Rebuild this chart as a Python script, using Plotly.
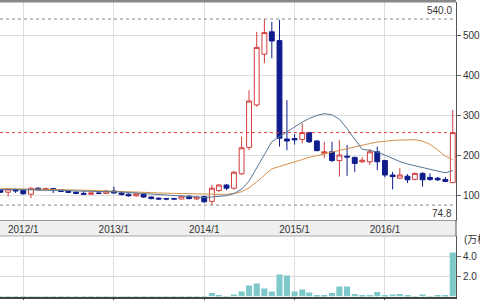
import plotly.graph_objects as go

months = ["2011-10-01","2011-11-01","2011-12-01",
          "2012-01-01","2012-02-01","2012-03-01","2012-04-01","2012-05-01","2012-06-01",
          "2012-07-01","2012-08-01","2012-09-01","2012-10-01","2012-11-01","2012-12-01",
          "2013-01-01","2013-02-01","2013-03-01","2013-04-01","2013-05-01","2013-06-01",
          "2013-07-01","2013-08-01","2013-09-01","2013-10-01","2013-11-01","2013-12-01",
          "2014-01-01","2014-02-01","2014-03-01","2014-04-01","2014-05-01","2014-06-01",
          "2014-07-01","2014-08-01","2014-09-01","2014-10-01","2014-11-01","2014-12-01",
          "2015-01-01","2015-02-01","2015-03-01","2015-04-01","2015-05-01","2015-06-01",
          "2015-07-01","2015-08-01","2015-09-01","2015-10-01","2015-11-01","2015-12-01",
          "2016-01-01","2016-02-01","2016-03-01","2016-04-01","2016-05-01","2016-06-01",
          "2016-07-01","2016-08-01","2016-09-01","2016-10-01"]

opens = [112,107,114, 112,102,117,114,116,113, 109,107,104,102,105,104,
         110,105,102,98,102,95, 92,91,91,90,97,90,
         96,84,111,125,117,153, 219,325,452,508,486,240,
         241,239,256,235,204,208, 186,197,194,183,183,208,
         186,150,142,147,139,154, 144,142,139,131]
highs = [114,117,116, 114,119,119,118,118,114, 110,108,110,107,107,112,
         121,107,104,105,104,96, 94,93,93,99,99,97,
         98,125,128,127,160,246, 362,508,540,533,538,337,
         252,279,258,237,233,233, 237,225,196,195,215,221,
         188,158,167,152,156,157, 154,145,145,313]
lows = [105,96,105, 101,92,111,112,105,107, 105,102,101,100,102,103,
        104,99,96,96,93,89, 88,87,88,89,89,88,
        81,74.8,108,112,113,150, 212,321,429,442,221,212,
        226,229,230,209,192,183, 146,148,158,180,175,162,
        144,114,140,130,137,121, 135,135,132,130]
closes = [107,115,110, 103,117,114,116,113,109, 107,104,102,105,104,110,
          105,101,98,103,95,91, 90,90,90,97,91,95,
          83,117,125,117,157,218, 335,469,506,485,242,235,
          238,256,233,211,208,186, 200,195,179,187,208,183,
          150,146,150,138,154,138, 139,138,134,256]

ma12 = [114,114,113,113,113,112,112,112,111,111,110,
        109.8,109.6,108.7,108.7,108.8,107.5,106.2,105.1,103.6,102.1,100.7,99.5,98.5,
        97.8,96.8,95.5,93.7,95.0,97.3,98.4,103.7,114.3,134.7,166.3,200.9,233.3,245.8,
        257.5,270.6,282.2,291.2,299.0,303.2,300.5,289.3,266.4,239.2,214.3,211.5,207.2,
        199.7,190.5,183.6,177.5,173.0,169.0,163.9,159.2,155.4,161.2]
ma24 = [116,116,115.5,115,115,114.5,114,114,113.5,113,112.5,112,111.5,111,110.5,110,
        109,108,107,106.5,106,105,104.5,
        104.1,103.7,102.7,102.1,101.3,101.3,101.7,101.8,103.6,108.2,117.7,132.9,149.7,
        165.5,171.3,176.5,182.1,188.6,194.2,198.7,203.4,207.4,212.0,216.3,220.0,223.8,
        228.7,232.3,235.1,236.3,237.4,238.3,238.1,234.8,226.6,212.8,197.3,187.8]

volume = [0.02]*27 + [0.05, 0.35, 0.08, 0.05, 0.2, 0.5, 1.1, 1.3, 0.8, 0.5, 2.2, 2.1,
          0.5, 0.7, 0.4, 0.15, 0.15, 0.35, 1.0, 1.0, 0.25, 0.15, 0.15, 0.45,
          0.1, 0.2, 0.25, 0.15, 0.05, 0.2, 0.05, 0.1, 0.15, 4.4]

year_ticks = ["2012-01-01", "2013-01-01", "2014-01-01", "2015-01-01", "2016-01-01"]
year_labels = ["2012/1", "2013/1", "2014/1", "2015/1", "2016/1"]
price_ticks = [100, 200, 300, 400, 500]
vol_ticks = [2, 4]
vol_labels = ["2.0", "4.0"]
high_mark = 540.0
low_mark = 74.8
last_close = 256

RED = "#d23c3c"
NAVY = "#0f1c8c"
FONT = "Liberation Sans, Noto Sans CJK JP, sans-serif"

fig = go.Figure()
fig.add_trace(go.Candlestick(
    x=months, open=opens, high=highs, low=lows, close=closes,
    increasing=dict(line=dict(color=RED, width=1), fillcolor="white"),
    decreasing=dict(line=dict(color=NAVY, width=1), fillcolor=NAVY),
    whiskerwidth=0, xaxis="x", yaxis="y", showlegend=False))
fig.add_trace(go.Scatter(x=months, y=ma24, mode="lines",
                         line=dict(color="#d4924a", width=1), xaxis="x", yaxis="y", showlegend=False))
fig.add_trace(go.Scatter(x=months, y=ma12, mode="lines",
                         line=dict(color="#557595", width=1), xaxis="x", yaxis="y", showlegend=False))
fig.add_trace(go.Bar(x=months, y=volume, marker=dict(color="#7ec8c9", line=dict(width=0)),
                     xaxis="x2", yaxis="y2", showlegend=False))

H = 300.0
price_dom = [(H - 220) / H, (H - 2) / H]
vol_dom = [(H - 296.5) / H, (H - 236) / H]
xr = ["2011-09-29", "2016-10-14"]

fig.update_layout(
    width=480, height=300, margin=dict(l=0, r=17, t=0, b=0),
    paper_bgcolor="white", plot_bgcolor="white",
    font=dict(family=FONT, size=10, color="#333333"),
    bargap=0.12, boxgap=0.3, boxgroupgap=0,
    xaxis=dict(type="date", range=xr, domain=[0, 1], anchor="y",
               tickvals=year_ticks, ticktext=year_labels, showticklabels=True,
               ticks="", showgrid=True, gridcolor="#dddddd", gridwidth=1,
               showline=True, linecolor="#999999", linewidth=1,
               rangeslider=dict(visible=False), zeroline=False,
               tickfont=dict(size=10, color="#333333")),
    yaxis=dict(domain=price_dom, range=[100 + (195 - 220) * 2.5, 100 + (195 - 2) * 2.5],
               side="right", tickvals=price_ticks, ticks="outside", ticklen=4,
               tickcolor="#666666", showgrid=True, gridcolor="#dddddd",
               showline=True, linecolor="#555555", linewidth=1, zeroline=False,
               anchor="x"),
    xaxis2=dict(type="date", range=xr, domain=[0, 1], anchor="y2", matches="x",
                tickvals=year_ticks, showticklabels=False, ticks="outside", ticklen=3,
                tickcolor="#444444", showgrid=True, gridcolor="#dddddd",
                showline=True, linecolor="#444444", linewidth=2, zeroline=False),
    yaxis2=dict(domain=vol_dom, range=[0, 6.05], side="right", tickvals=vol_ticks,
                ticktext=vol_labels, ticks="outside", ticklen=4, tickcolor="#666666",
                showgrid=True, gridcolor="#dddddd", showline=True, linecolor="#555555",
                linewidth=1, zeroline=False, anchor="x2"),
)

shapes = [
    dict(type="rect", xref="paper", yref="paper", x0=0, x1=1, y0=vol_dom[1], y1=price_dom[0],
         fillcolor="#efefef", line=dict(width=0), layer="below"),
    dict(type="line", xref="paper", yref="paper", x0=0, x1=1, y0=vol_dom[1], y1=vol_dom[1],
         line=dict(color="#aaaaaa", width=1)),
    dict(type="line", xref="paper", yref="paper", x0=1, x1=1, y0=vol_dom[1], y1=price_dom[0],
         line=dict(color="#555555", width=1)),
    dict(type="rect", xref="paper", yref="paper", x0=0, x1=1, y0=(H - 2.5) / H, y1=1.0,
         fillcolor="#888888", line=dict(width=0)),
    dict(type="line", xref="paper", yref="y", x0=0, x1=1, y0=high_mark, y1=high_mark,
         line=dict(color="#888888", width=1, dash="dot")),
    dict(type="line", xref="paper", yref="y", x0=0, x1=1, y0=low_mark, y1=low_mark,
         line=dict(color="#888888", width=1, dash="dot")),
    dict(type="line", xref="paper", yref="y", x0=0, x1=1, y0=last_close, y1=last_close,
         line=dict(color="#e03c3c", width=1, dash="dot")),
]
fig.update_layout(shapes=shapes)

fig.update_layout(annotations=[
    dict(x=0.995, xref="paper", y=high_mark, yref="y", text=f"{high_mark:.1f}",
         showarrow=False, xanchor="right", yanchor="bottom", yshift=1,
         font=dict(size=10, color="#333333")),
    dict(x=0.995, xref="paper", y=low_mark, yref="y", text=f"{low_mark:.1f}",
         showarrow=False, xanchor="right", yanchor="top", yshift=-1,
         font=dict(size=10, color="#333333")),
    dict(x=1, xref="paper", y=5.8, yref="y2", text="(万株)", showarrow=False,
         xanchor="left", yanchor="middle", xshift=6,
         font=dict(size=10, color="#333333")),
])

fig.write_html("out.html")
